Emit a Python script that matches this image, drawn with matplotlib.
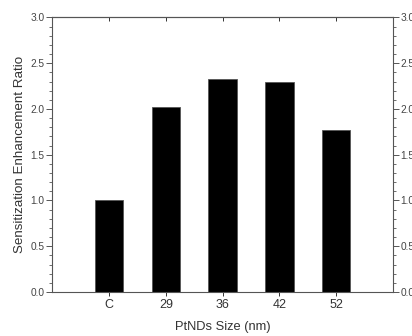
import matplotlib

matplotlib.use("Agg")
import matplotlib.pyplot as plt
from matplotlib.ticker import MultipleLocator

plt.rcParams["font.family"] = ["Liberation Sans", "DejaVu Sans"]

sizes = ["C", "29", "36", "42", "52"]
ratios = [1.00, 2.02, 2.33, 2.29, 1.77]

positions = list(range(1, len(sizes) + 1))

fig = plt.figure(figsize=(4.12, 3.36), dpi=100)
ax = fig.add_axes([0.127, 0.131, 0.827, 0.817])

ax.bar(positions, ratios, width=0.5, color="black", edgecolor="#555555", linewidth=0.6)

ax.set_xlim(0, 6)
ax.set_ylim(0, 3.0)
ax.set_xticks(positions)
ax.set_xticklabels(sizes)
ax.yaxis.set_major_locator(MultipleLocator(0.5))
ax.yaxis.set_minor_locator(MultipleLocator(0.1))

for spine in ax.spines.values():
    spine.set_color("#555555")
    spine.set_linewidth(0.8)

ax.tick_params(axis="x", which="major", direction="out", length=3, width=0.7,
               colors="#333333", labelsize=9, pad=2)
ax.tick_params(axis="y", which="major", direction="out", length=4, width=0.7,
               colors="#555555", labelcolor="#444444", labelsize=7.3,
               right=True, labelright=True, pad=1.5)
ax.tick_params(axis="y", which="minor", direction="out", length=2, width=0.6,
               colors="#555555", right=True)

# top ticks point inward
sec = ax.secondary_xaxis("top")
sec.set_xticks(positions)
sec.set_xticklabels([])
sec.tick_params(direction="in", length=3, width=0.7, colors="#333333")
sec.spines["top"].set_color("#555555")

ax.set_xlabel("PtNDs Size (nm)", fontsize=9.3, color="#333333", labelpad=7)
ax.set_ylabel("Sensitization Enhancement Ratio", fontsize=9.6, color="#333333", labelpad=3)

fig.savefig("out.png", dpi=100)
